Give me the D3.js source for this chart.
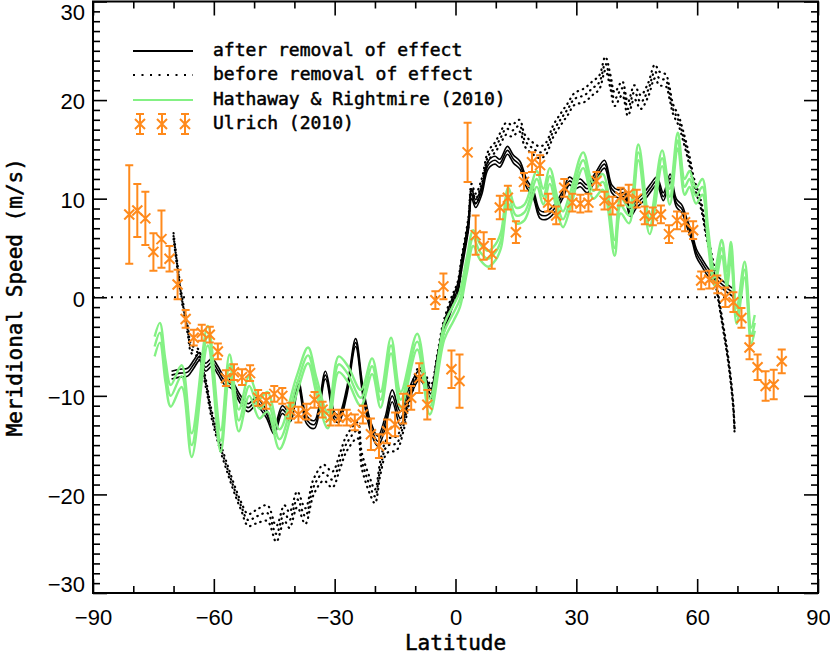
<!DOCTYPE html>
<html>
<head>
<meta charset="utf-8">
<script src="https://cdn.jsdelivr.net/npm/d3@7"></script>
<style>
  body { margin: 0; background: #fff; }
  #chart { width: 830px; height: 655px; }
</style>
</head>
<body>
<div id="chart"></div>
<script>
"use strict";

// [latitude, speed, half spread of the three lines]
const afterRemoval = [
    [-70.5, -7.9, 0.4], [-68.5, -7.7, 0.4], [-66.5, -7.6, 0.4], [-65, -6.8, 0.4],
    [-63.5, -6.0, 0.4], [-62, -7.1, 0.4], [-60.5, -6.6, 0.4], [-59, -7.4, 0.4],
    [-57.5, -8.4, 0.4], [-55.5, -8.9, 0.4], [-53.5, -10.3, 0.4], [-51.5, -11.2, 0.4],
    [-49.5, -10.6, 0.4], [-47, -11.8, 0.4], [-45, -13.5, 0.4], [-43, -11.4, 0.4],
    [-41, -12.2, 0.4], [-39, -8.8, 0.4], [-37, -12.4, 0.4], [-35, -12.9, 0.4],
    [-32.3, -7.9, 0.4], [-30, -12.1, 0.4], [-29, -12.3, 0.4], [-27, -9.6, 0.4],
    [-24.8, -4.6, 0.4], [-23, -9.5, 0.5], [-21, -13.2, 0.5], [-19.3, -14.6, 0.5],
    [-17.5, -12.8, 0.6], [-15.7, -10.0, 0.6], [-13.7, -12.3, 0.7], [-11.5, -9.8, 0.6],
    [-9, -7.9, 0.5], [-7.5, -8.6, 0.5], [-6.1, -9.8, 0.5], [-4.5, -6.5, 0.5],
    [-3, -3.3, 0.5], [-1, -0.8, 0.5], [0.5, 0.8, 0.5], [1.5, 3.2, 0.5],
    [3.2, 7.3, 0.5], [4, 10.5, 0.5], [5, 9.5, 0.4], [6.5, 10.8, 0.4],
    [8.1, 13.4, 0.4], [9.8, 13.9, 0.4], [11, 13.6, 0.4], [12.9, 14.9, 0.4],
    [14.4, 14.0, 0.4], [16, 13.4, 0.4], [17.7, 11.5, 0.4], [19.3, 10.5, 0.4],
    [21, 8.4, 0.4], [22.6, 8.3, 0.4], [24.6, 9.0, 0.4], [26.6, 10.4, 0.4],
    [28.3, 11.8, 0.4], [29.7, 11.4, 0.4], [31, 11.6, 0.4], [32.7, 11.0, 0.4],
    [34.7, 12.2, 0.4], [37, 13.5, 0.4], [38.8, 11.0, 0.4], [40.3, 10.5, 0.4],
    [41.8, 10.6, 0.4], [43.4, 8.6, 0.4], [45, 9.5, 0.4], [46.8, 10.2, 0.4],
    [48.3, 11.0, 0.4], [50, 11.8, 0.4], [51.6, 10.2, 0.4], [53.3, 12.1, 0.4],
    [54.8, 9.6, 0.4], [56.3, 8.9, 0.4], [57.4, 7.6, 0.4], [58.8, 6.0, 0.4],
    [59.8, 4.5, 0.4], [61.2, 3.5, 0.4], [62.8, 2.5, 0.4], [64.8, 1.8, 0.4],
    [66.8, 1.1, 0.4], [68.8, 0.5, 0.4]
];

const beforeRemoval = [
    [-70, 6.2, 0.3], [-69, 3.0, 0.3], [-68, 0.0, 0.3], [-66.5, -3.3, 0.4],
    [-65.5, -5.3, 0.4], [-64, -5.6, 0.4], [-62, -8.7, 0.4], [-60.7, -11.6, 0.4],
    [-58.5, -15.0, 0.4], [-56.3, -17.8, 0.4], [-54.5, -19.9, 0.4], [-53.2, -21.2, 0.4],
    [-51.5, -22.6, 0.6], [-49.2, -22.2, 0.7], [-46.7, -21.9, 0.8], [-44.5, -24.0, 0.8],
    [-42.5, -21.9, 0.8], [-41.2, -22.6, 0.8], [-39.3, -20.5, 0.8], [-37.3, -22.2, 0.8],
    [-35.2, -19.2, 0.8], [-32.7, -17.8, 0.8], [-30.6, -18.5, 0.8], [-28.6, -16.5, 0.8],
    [-27, -14.8, 0.8], [-24.3, -13.5, 0.8], [-23.3, -16.5, 0.8], [-21.2, -19.2, 0.8],
    [-20, -20.2, 0.7], [-18.6, -17.2, 0.7], [-17, -15.1, 0.7], [-14.6, -14.8, 0.7],
    [-13, -13.1, 0.6], [-11.5, -10.3, 0.5], [-9, -7.6, 0.5], [-7.5, -8.3, 0.5],
    [-6.1, -9.4, 0.5], [-4.5, -6.2, 0.5], [-3, -3.0, 0.5], [-1, -0.5, 0.5],
    [0.5, 1.0, 0.5], [1.5, 3.5, 0.5], [3.2, 7.6, 0.5], [4, 11.0, 0.5],
    [5, 10.0, 0.5], [6.5, 11.5, 0.5], [8.1, 14.3, 0.5], [9.8, 15.2, 0.5],
    [11, 16.0, 0.6], [12.6, 17.1, 0.6], [14, 16.9, 0.6], [15.9, 17.4, 0.6],
    [17.2, 15.9, 0.6], [19.2, 15.1, 0.6], [21, 14.7, 0.6], [22.5, 15.1, 0.6],
    [24.2, 16.8, 0.6], [26.2, 18.1, 0.6], [27.9, 19.1, 0.6], [29.5, 20.1, 0.6],
    [32, 20.5, 0.7], [34, 21.2, 0.7], [35.7, 21.8, 0.7], [37.2, 23.7, 0.7],
    [38.5, 21.8, 0.7], [39.5, 20.1, 0.7], [41.4, 21.2, 0.7], [42.8, 19.1, 0.7],
    [44.4, 20.8, 0.7], [46, 19.8, 0.7], [47.8, 21.0, 0.7], [49.5, 22.9, 0.7],
    [50.6, 22.2, 0.7], [52.2, 22.0, 0.6], [53.1, 20.8, 0.6], [54, 19.1, 0.5],
    [55.4, 17.9, 0.5], [56.5, 16.4, 0.5], [58, 14.0, 0.5], [59.2, 11.7, 0.4],
    [61, 9.3, 0.4], [62.2, 6.6, 0.4], [64, 3.2, 0.4], [65.2, 0.1, 0.3],
    [66.4, -2.9, 0.3], [67.7, -6.3, 0.3], [68.9, -10.7, 0.3], [69.3, -13.6, 0.3]
];

const hathaway = [
    [-74.7, -5.0, 1.0], [-73.4, -3.6, 1.0], [-72, -7.5, 1.1], [-70.7, -10.0, 1.1],
    [-68, -8.0, 1.1], [-65.5, -15.0, 1.2], [-61.5, -3.9, 1.0], [-58.3, -14.6, 1.1],
    [-56.1, -6.8, 1.0], [-53.8, -12.5, 1.1], [-51.2, -9.0, 1.0], [-48.7, -11.3, 1.0],
    [-46.7, -10.6, 1.0], [-43.7, -14.4, 1.0], [-39.5, -9.0, 0.9], [-36.6, -5.9, 0.8],
    [-34.5, -9.0, 0.8], [-31.7, -12.5, 0.8], [-29, -6.8, 0.8], [-26.7, -7.8, 0.8],
    [-23.5, -10.2, 0.8], [-20.7, -7.0, 0.8], [-18.6, -10.4, 0.8], [-16, -4.9, 0.8],
    [-13.6, -10.4, 0.8], [-9.5, -4.5, 0.8], [-6.4, -11.1, 0.8], [-2.8, -3.5, 0.8],
    [-0.5, -1.6, 0.8], [1.1, -0.2, 0.8], [2.8, 3.2, 0.8], [4.4, 6.0, 0.8],
    [6.1, 4.6, 0.8], [8.1, 3.9, 0.8], [10, 4.6, 0.8], [11.3, 5.8, 0.8],
    [13.1, 10.3, 0.8], [15, 8.3, 0.8], [17.1, 8.6, 0.8], [20.2, 12.0, 0.8],
    [21.8, 10.2, 0.8], [23.4, 12.3, 0.8], [25.5, 9.0, 0.8], [26.7, 7.9, 0.8],
    [28.6, 10.0, 0.8], [31.7, 13.9, 0.8], [34.2, 10.8, 0.8], [36.6, 11.7, 0.8],
    [39.5, 5.0, 0.8], [41, 9.3, 0.8], [43.1, 8.3, 0.8], [45.4, 14.7, 0.8],
    [48.2, 7.2, 0.8], [51.3, 14.1, 0.8], [53.2, 10.2, 0.8], [55.2, 15.9, 0.8],
    [56.9, 11.2, 0.8], [58.1, 12.0, 0.8], [59.7, 10.3, 0.8], [61.3, 11.2, 0.8],
    [62.7, 6.2, 0.8], [64.3, 2.0, 0.8], [66.1, 5.0, 0.8], [67.4, 1.8, 0.8],
    [68.4, 4.8, 0.8], [69.8, -1.9, 0.8], [71.8, 2.8, 0.8], [73.4, -3.9, 0.8],
    [74.3, -2.6, 0.8]
];

// [latitude, speed, error]
const ulrich = [
    [-81, 8.4, 5.0], [-79, 8.8, 2.7], [-77, 8.0, 2.7], [-75, 4.6, 1.9],
    [-73, 5.9, 2.9], [-71, 3.9, 1.3], [-69, 1.3, 1.5], [-67, -2.2, 0.9],
    [-65, -4.1, 0.8], [-63, -3.6, 0.8], [-61, -3.8, 0.8], [-59, -5.5, 0.8],
    [-57, -8.2, 0.8], [-55, -7.6, 0.8], [-53, -8.1, 0.8], [-51, -7.7, 0.8],
    [-49, -10.2, 0.8], [-47, -10.5, 0.8], [-45, -9.8, 0.8], [-43, -10.0, 0.8],
    [-41, -11.5, 0.8], [-39, -11.9, 0.8], [-37, -11.6, 0.8], [-35, -10.4, 0.8],
    [-33, -11.4, 0.8], [-31, -12.2, 0.8], [-29, -12.2, 0.8], [-27, -12.2, 0.8],
    [-25, -12.7, 0.8], [-23, -11.9, 0.9], [-21, -13.9, 1.6], [-19, -15.1, 1.2],
    [-17, -13.6, 1.2], [-15, -12.9, 1.2], [-13, -11.3, 1.5], [-11, -10.2, 1.2],
    [-9, -8.2, 1.5], [-7, -10.9, 1.5], [-5, -0.3, 0.9], [-3, 1.1, 1.3],
    [-1, -7.3, 1.9], [1, -8.5, 2.7], [3, 14.7, 3.0], [5, 6.3, 2.0],
    [7, 5.2, 1.4], [9, 4.4, 1.5], [11, 9.1, 1.2], [13, 10.1, 1.2],
    [15, 6.6, 1.1], [17, 11.7, 0.9], [19, 13.7, 1.0], [21, 13.4, 1.0],
    [23, 9.6, 0.9], [25, 8.3, 0.9], [27, 11.1, 0.9], [29, 9.6, 0.9],
    [31, 9.5, 0.9], [33, 9.6, 0.9], [35, 11.8, 0.9], [37, 9.8, 0.9],
    [39, 9.3, 0.9], [41, 10.2, 0.9], [43, 10.5, 0.9], [45, 10.0, 0.9],
    [47, 8.3, 0.9], [49, 8.2, 0.9], [51, 8.4, 0.9], [53, 6.4, 0.9],
    [55, 7.8, 0.9], [57, 7.6, 0.9], [59, 6.8, 0.9], [61, 1.7, 0.9],
    [63, 1.8, 0.9], [65, 1.3, 0.9], [67, 0.0, 1.0], [69, -0.5, 1.0],
    [71, -2.1, 1.0], [73, -5.1, 1.2], [75, -7.1, 1.3], [77, -9.0, 1.5],
    [79, -8.85, 1.5], [81, -6.5, 1.2]
];

const xMajorTicks = [-90, -60, -30, 0, 30, 60, 90];
const yMajorTicks = [-30, -20, -10, 0, 10, 20, 30];

const legendLabels = [
    "after removal of effect",
    "before removal of effect",
    "Hathaway & Rightmire (2010)",
    "Ulrich (2010)"
];

const black = "#000";
const green = "#84f184";
const orange = "#ff8a1c";
const mono = "'DejaVu Sans Mono', monospace";

const svg = d3.select("#chart").append("svg")
    .attr("width", 830)
    .attr("height", 655);

const x = d3.scaleLinear().domain([-90, 90]).range([93, 818]);
const y = d3.scaleLinear().domain([-30, 30]).range([593, 1.5]);

const xMinor = d3.range(-90, 91, 10).filter(v => !xMajorTicks.includes(v));
const yMinor = d3.range(-30, 31, 1).filter(v => !yMajorTicks.includes(v));

const fmt = d => d < 0 ? "\u2212" + Math.abs(d) : String(d);

// axes: ticks point inward on all four sides
function drawAxis(axisFn, scale, transform, major, minor, majorLen, minorLen, labels) {
    const gMaj = svg.append("g")
        .attr("transform", transform)
        .call(axisFn(scale).tickValues(major).tickSizeInner(-majorLen).tickSizeOuter(0)
            .tickPadding(labels ? 16 : 0).tickFormat(labels ? fmt : ""));
    const gMin = svg.append("g")
        .attr("transform", transform)
        .call(axisFn(scale).tickValues(minor).tickSizeInner(-minorLen).tickSizeOuter(0).tickFormat(""));
    [gMaj, gMin].forEach(g => {
        g.select(".domain").remove();
        g.selectAll("line").attr("stroke", black).attr("stroke-width", 1.6);
    });
    gMaj.selectAll("text")
        .attr("fill", black)
        .style("font-family", "'Liberation Sans', Arial, sans-serif")
        .style("font-size", "22px");
    return gMaj;
}

drawAxis(d3.axisBottom, x, "translate(0,593)", xMajorTicks, xMinor, 14, 7, true);
drawAxis(d3.axisTop, x, "translate(0,1.5)", xMajorTicks, xMinor, 14, 7, false);
const leftAxis = drawAxis(d3.axisLeft, y, "translate(93,0)", yMajorTicks, yMinor, 14, 7, true);
drawAxis(d3.axisRight, y, "translate(818,0)", yMajorTicks, yMinor, 14, 7, false);

// end labels are kept inside the frame height, like the original
leftAxis.selectAll("text")
    .attr("x", -8)
    .attr("dy", d => d === 30 ? "0.8em" : d === -30 ? "-0.05em" : "0.4em");

svg.append("rect")
    .attr("x", x(-90)).attr("y", y(30))
    .attr("width", x(90) - x(-90)).attr("height", y(-30) - y(30))
    .attr("fill", "none")
    .attr("stroke", black)
    .attr("stroke-width", 2);

// zero line
svg.append("line")
    .attr("x1", x(-90)).attr("x2", x(90))
    .attr("y1", y(0)).attr("y2", y(0))
    .attr("stroke", black)
    .attr("stroke-width", 2)
    .attr("stroke-dasharray", "2,7");

// three lines per series: centre and +/- spread
function triple(data, opts) {
    const g = svg.append("g");
    [-1, 0, 1].forEach(k => {
        const line = d3.line()
            .x(d => x(d[0]))
            .y(d => y(d[1] + k * d[2]))
            .curve(d3.curveCatmullRom);
        g.append("path")
            .datum(data)
            .attr("d", line)
            .attr("fill", "none")
            .attr("stroke", opts.color)
            .attr("stroke-width", opts.width)
            .attr("stroke-dasharray", opts.dash || null)
            .attr("stroke-linecap", opts.dash ? "round" : "butt");
    });
}

triple(beforeRemoval, {color: black, width: 2.2, dash: "0.5,5"});
triple(afterRemoval, {color: black, width: 1.6});
triple(hathaway, {color: green, width: 2.4});

// Ulrich points: error bar with caps and an x marker
function ulrichMark(g, cx, cy, top, bottom) {
    const s = 5, cap = 4;
    const path = d3.path();
    path.moveTo(cx, top); path.lineTo(cx, bottom);
    path.moveTo(cx - cap, top); path.lineTo(cx + cap, top);
    path.moveTo(cx - cap, bottom); path.lineTo(cx + cap, bottom);
    path.moveTo(cx - s, cy - s); path.lineTo(cx + s, cy + s);
    path.moveTo(cx - s, cy + s); path.lineTo(cx + s, cy - s);
    g.append("path")
        .attr("d", path.toString())
        .attr("fill", "none")
        .attr("stroke", orange)
        .attr("stroke-width", 2);
}

const gU = svg.append("g");
ulrich.forEach(d => ulrichMark(gU, x(d[0]), y(d[1]), y(d[1] + d[2]), y(d[1] - d[2])));

// legend
const legend = svg.append("g");
const rows = [51, 75, 100, 124];
legend.append("line").attr("x1", 133).attr("x2", 193).attr("y1", rows[0]).attr("y2", rows[0])
    .attr("stroke", black).attr("stroke-width", 2);
legend.append("line").attr("x1", 133).attr("x2", 193).attr("y1", rows[1]).attr("y2", rows[1])
    .attr("stroke", black).attr("stroke-width", 2).attr("stroke-dasharray", "2,6.5");
legend.append("line").attr("x1", 133).attr("x2", 193).attr("y1", rows[2]).attr("y2", rows[2])
    .attr("stroke", green).attr("stroke-width", 2);
[140, 162, 185].forEach(cx => ulrichMark(legend, cx, rows[3], rows[3] - 10, rows[3] + 10));

// medium weight text: regular face with a thin outline
function heavy(sel) {
    sel.style("font-family", mono)
        .attr("stroke", black)
        .attr("stroke-width", 0.5);
}

legend.selectAll("text.lab")
    .data(legendLabels)
    .enter()
    .append("text")
    .attr("class", "lab")
    .attr("x", 213)
    .attr("y", (d, i) => rows[i] + 5)
    .style("font-size", "18px")
    .call(heavy)
    .text(d => d);

// axis titles
svg.append("text")
    .attr("x", x(0))
    .attr("y", 650)
    .attr("text-anchor", "middle")
    .style("font-size", "21px")
    .call(heavy)
    .text("Latitude");

svg.append("text")
    .attr("transform", "translate(22," + y(0) + ") rotate(-90)")
    .attr("text-anchor", "middle")
    .style("font-size", "21px")
    .call(heavy)
    .text("Meridional Speed (m/s)");
</script>
</body>
</html>
